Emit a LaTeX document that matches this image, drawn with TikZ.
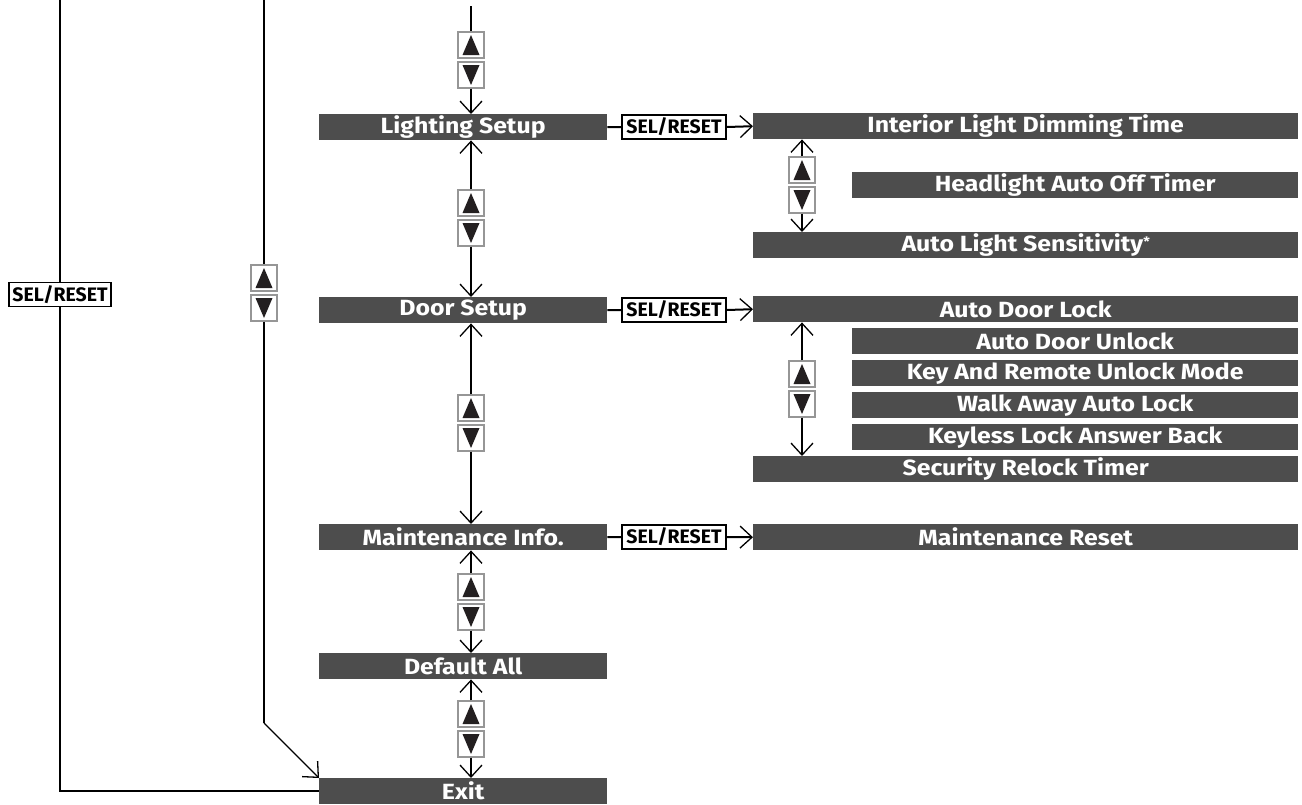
\documentclass[tikz,border=0pt]{standalone}
\usepackage{fontspec}
\setmainfont{Fira Sans}
\newfontfamily\barfont{Fira Sans}[FakeStretch=1.13]
\usetikzlibrary{arrows.meta,calc}
\definecolor{barfill}{RGB}{77,77,77}
\definecolor{boxgray}{RGB}{150,150,150}
\definecolor{trifill}{RGB}{35,31,32}
\tikzset{
 bar/.style={fill=barfill, text=white, font=\barfont\fontsize{22}{22}\selectfont\bfseries, minimum height=26pt, inner sep=0pt, anchor=north west},
 mainbar/.style={bar, minimum width=288pt},
 fullbar/.style={bar, minimum width=545pt},
 subbar/.style={bar, minimum width=446pt},
 selbox/.style={draw=black, line width=1.4pt, fill=white, minimum width=104pt, minimum height=24pt, inner sep=0pt, font=\fontsize{19.5}{19.5}\selectfont\bfseries},
 upbox/.style={draw=boxgray, line width=1.2pt, fill=white, minimum width=26pt, minimum height=26pt, inner sep=0pt,
   path picture={\fill[trifill] ($(path picture bounding box.north)+(0,-3pt)$) -- ($(path picture bounding box.south)+(-8.5pt,3pt)$) -- ($(path picture bounding box.south)+(8.5pt,3pt)$) -- cycle;}},
 downbox/.style={draw=boxgray, line width=1.2pt, fill=white, minimum width=26pt, minimum height=26pt, inner sep=0pt,
   path picture={\fill[trifill] ($(path picture bounding box.south)+(0,3pt)$) -- ($(path picture bounding box.north)+(-8.5pt,-3pt)$) -- ($(path picture bounding box.north)+(8.5pt,-3pt)$) -- cycle;}},
 conn/.style={line width=2pt},
 tip/.style={-{Straight Barb[length=12pt,width=22pt,line width=1.3pt]}},
}
\begin{document}
\begin{tikzpicture}[x=1pt,y=-1pt]
\useasboundingbox (0,0) rectangle (1302,804);
% main column bars
\node[mainbar] (light) at (319,114) {Lighting Setup};
\node[mainbar] (door) at (319,297) {Door Setup};
\node[mainbar] (maint) at (319,524) {Maintenance Info.};
\node[mainbar] (def) at (319,653) {Default All};
\node[mainbar] (exit) at (319,778) {Exit};
% right column bars
\node[fullbar] (idt) at (753,113) {Interior Light Dimming Time};
\node[subbar] (haot) at (852,172) {Headlight Auto Off Timer};
\node[fullbar] (als) at (753,232) {Auto Light Sensitivity{\fontsize{13}{13}\selectfont\raisebox{5pt}{*}}};
\node[fullbar] (adl) at (753,296) {Auto Door Lock};
\node[subbar] (adu) at (852,328) {Auto Door Unlock};
\node[subbar] (karum) at (852,360) {Key And Remote Unlock Mode};
\node[subbar] (waal) at (852,392) {Walk Away Auto Lock};
\node[subbar] (klab) at (852,424) {Keyless Lock Answer Back};
\node[fullbar] (srt) at (753,456) {Security Relock Timer};
\node[fullbar] (mr) at (753,524) {Maintenance Reset};
% SEL/RESET boxes
\node[selbox] (sel1) at (674,127) {SEL/RESET};
\node[selbox] (sel2) at (674,310) {SEL/RESET};
\node[selbox] (sel3) at (674,537) {SEL/RESET};
\node[selbox, minimum width=102pt] (sel0) at (60,294.5) {SEL/RESET};
% up/down boxes
\node[upbox] (u1) at (471,45) {};   \node[downbox] (d1) at (471,75) {};
\node[upbox] (u2) at (471,203) {};  \node[downbox] (d2) at (471,233) {};
\node[upbox] (u3) at (471,408) {};  \node[downbox] (d3) at (471,438) {};
\node[upbox] (u4) at (471,587) {};  \node[downbox] (d4) at (471,617) {};
\node[upbox] (u5) at (471,714) {};  \node[downbox] (d5) at (471,744) {};
\node[upbox] (uL) at (264,278) {};  \node[downbox] (dL) at (264,308) {};
\node[upbox] (uR1) at (802,170) {}; \node[downbox] (dR1) at (802,200) {};
\node[upbox] (uR2) at (802,374) {}; \node[downbox] (dR2) at (802,404) {};
% free ends
\coordinate (topM) at (471,6);
\coordinate (topL) at (60,0);
\coordinate (topK) at (264,0);
\coordinate (bend) at (264,723);
% main column connectors
\draw[conn] (topM) -- (u1.north);
\draw[conn,tip] (d1.south) -- (d1.south |- light.north);
\draw[conn,tip] (u2.north) -- (u2.north |- light.south);
\draw[conn,tip] (d2.south) -- (d2.south |- door.north);
\draw[conn,tip] (u3.north) -- (u3.north |- door.south);
\draw[conn,tip] (d3.south) -- (d3.south |- maint.north);
\draw[conn,tip] (u4.north) -- (u4.north |- maint.south);
\draw[conn,tip] (d4.south) -- (d4.south |- def.north);
\draw[conn,tip] (u5.north) -- (u5.north |- def.south);
\draw[conn,tip] (d5.south) -- (d5.south |- exit.north);
% left loops
\draw[conn] (topL) -- (sel0.north);
\draw[conn] (sel0.south) |- (exit.west);
\draw[conn] (topK) -- (uL.north);
\draw[conn] (dL.south) -- (bend);
\draw[line width=1.3pt,tip] (bend) -- (exit.north west);
% SEL/RESET connectors
\draw[conn] (light.east) -- (sel1.west);
\draw[conn,tip] (sel1.east) -- (idt.west);
\draw[conn] (door.east) -- (sel2.west);
\draw[conn,tip] (sel2.east) -- (adl.west);
\draw[conn] (maint.east) -- (sel3.west);
\draw[conn,tip] (sel3.east) -- (mr.west);
% right column connectors
\draw[conn,tip] (uR1.north) -- (uR1.north |- idt.south);
\draw[conn,tip] (dR1.south) -- (dR1.south |- als.north);
\draw[conn,tip] (uR2.north) -- (uR2.north |- adl.south);
\draw[conn,tip] (dR2.south) -- (dR2.south |- srt.north);
\end{tikzpicture}
\end{document}
